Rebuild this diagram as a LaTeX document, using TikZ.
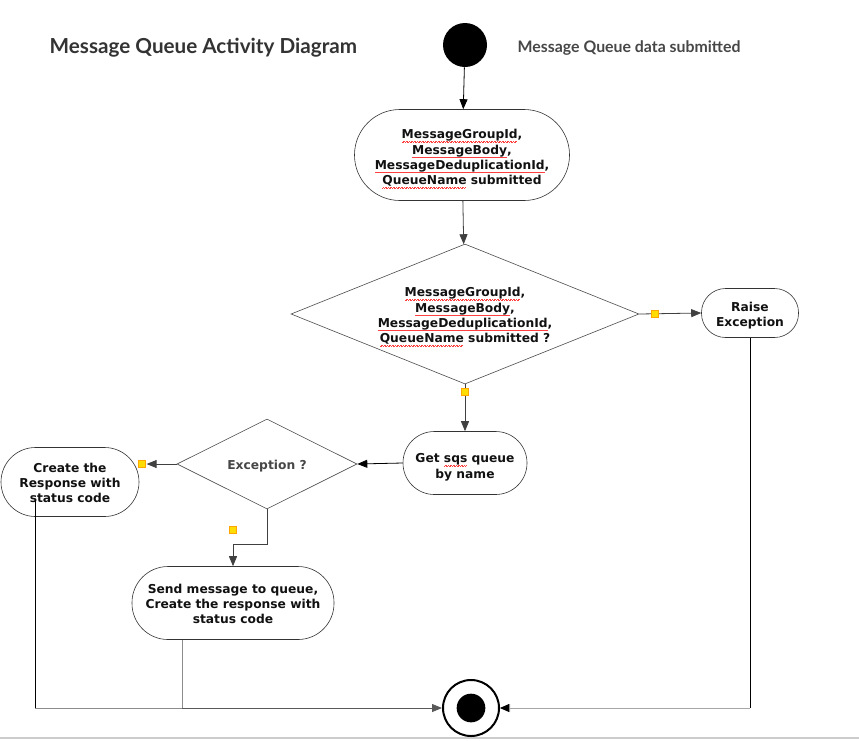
\documentclass[tikz,border=0pt]{standalone}
\usepackage{fontspec}
\setmainfont{DejaVu Sans}
\newfontfamily\titlefont{Lato}
\usetikzlibrary{shapes.geometric,arrows.meta,calc}
\newsavebox\splbox
\newcommand\spl[1]{\sbox\splbox{#1}\rlap{\usebox\splbox}\smash{\color{red!75!white}\hbox to\wd\splbox{\leaders\hbox{\rule[-2.5pt]{0.6pt}{0.35pt}\rule[-2.1pt]{0.6pt}{0.35pt}}\hfill}}}
\newcommand\lift[1]{\rule{0pt}{#1}}
\definecolor{txt}{HTML}{111111}
\definecolor{ttl}{HTML}{333333}
\begin{document}
\begin{tikzpicture}[x=0.75pt,y=-0.75pt,
  every node/.style={font=\bfseries\fontsize{9.2pt}{11.5pt}\selectfont, text=txt, align=center},
  act/.style={draw=black!80, line width=0.45pt, inner sep=0pt},
  dec/.style={draw=black!70, line width=0.45pt, diamond, inner sep=0pt},
  conn/.style={draw=black!75, line width=0.6pt, -{Triangle[length=7.5pt,width=6pt]}},
  plain/.style={line width=0.7pt},
  ysq/.style={fill=yellow!80!orange, draw=orange!70!yellow, line width=0.3pt, minimum size=5.5pt, inner sep=0pt}]
\useasboundingbox (0,0) rectangle (859,740);
\fill[white] (0,0) rectangle (859,740);
\draw[black!20, line width=0.9pt] (0,738) -- (859,738);

% titles
\node[font=\titlefont\bfseries\fontsize{15.5pt}{17pt}\selectfont, text=ttl, anchor=west] (title) at (45,48) {Message Queue Activity Diagram};
\node[font=\titlefont\bfseries\fontsize{11.9pt}{13pt}\selectfont, text=ttl!90!white, anchor=west] (sub) at (513,48) {Message Queue data submitted};

% start
\node[circle, fill=black, minimum size=33pt, inner sep=0pt] (start) at (465,45) {};

% activities
\node[act, minimum width=161.25pt, minimum height=68.25pt, rounded corners=34pt] (box1) at (462,155)
  {\lift{11.7pt}\spl{MessageGroupId},\\\spl{MessageBody},\\\spl{MessageDeduplicationId},\\\spl{QueueName} submitted};
\node[dec, minimum width=261pt, minimum height=105pt, aspect=2.49] (d1) at (465,314)
  {\lift{10.2pt}\spl{MessageGroupId},\\\spl{MessageBody},\\\spl{MessageDeduplicationId},\\\spl{QueueName} submitted ?};
\node[act, minimum width=72.75pt, minimum height=36.75pt, rounded corners=18pt] (raise) at (750,313) {\lift{11.2pt}Raise\\Exception};
\node[act, minimum width=93pt, minimum height=47.25pt, rounded corners=23.5pt] (getq) at (465,463) {\lift{13pt}Get \spl{sqs} queue\\by name};
\node[dec, minimum width=135pt, minimum height=67.5pt, aspect=2, text=black!72] (d2) at (267,464) {\lift{10.5pt}Exception ?};
\node[act, minimum width=103.5pt, minimum height=51.75pt, rounded corners=25.8pt] (create) at (70,482) {\lift{8.5pt}Create the\\Response with\\status code};
\node[act, minimum width=151.5pt, minimum height=54.75pt, rounded corners=27pt] (send) at (233,603) {\lift{8.6pt}Send message to queue,\\Create the response with\\status code};

% end
\node[circle, draw=black, line width=1.5pt, minimum size=42pt, inner sep=0pt] (end) at (471,708) {};
\node[circle, fill=black, minimum size=21.5pt, inner sep=0pt] (endin) at (end.center) {};

% connectors
\draw[conn, draw=black] (start) -- (box1);
\draw[conn] (box1) -- (d1);
\draw[conn] (d1.east) -- (raise.west);
\draw[conn] (d1.south) -- (getq.north);
\draw[conn, draw=black] (getq.west) -- (d2.east);
\draw[conn] (d2.west) -- ([xshift=5.5pt]d2.west -| create.east);
\draw[conn] (d2.south) -- ++(0,35) -| (send.north);

\coordinate (cs) at (35,500);
\coordinate (ss) at (182,640);
\draw[plain, black] (cs) -- (cs |- end.west);
\draw[plain, black!45] (cs |- end.west) -- (ss |- end.west);
\draw[plain, black!45] (ss) -- (ss |- end.west);
\draw[conn, black!65] (ss |- end.west) -- (end.west);
\draw[plain, black] (raise.south) -- (raise.south |- end.east);
\draw[conn, black!35] (raise.south |- end.east) -- (end.east);
\fill[black] (end.east) -- ++(9,-4) -- ++(0,8) -- cycle;

% yellow markers
\node[ysq] (m1) at (655,314) {};
\node[ysq] (m2) at (465,392) {};
\node[ysq] (m3) at (142,464) {};
\node[ysq] (m4) at (233,530) {};
\end{tikzpicture}
\end{document}
